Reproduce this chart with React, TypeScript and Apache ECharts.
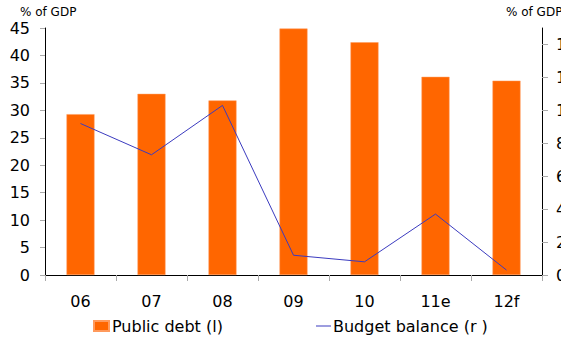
import React, { useEffect, useRef } from "react";
import * as echarts from "echarts";

const categories = ["06", "07", "08", "09", "10", "11e", "12f"];
const publicDebt = [29.3, 33.0, 31.8, 44.9, 42.4, 36.1, 35.4];
const budgetBalance = [9.2, 7.3, 10.3, 1.2, 0.8, 3.7, 0.3];
const leftTicks = [0, 5, 10, 15, 20, 25, 30, 35, 40, 45];
const rightTicks = [0, 2, 4, 6, 8, 10, 12, 14];

const FONT = "'DejaVu Sans', Verdana, sans-serif";

export default function App() {
  const ref = useRef<HTMLDivElement>(null);
  useEffect(() => {
    if (!ref.current) return;
    const chart = echarts.init(ref.current, undefined, { renderer: "svg" });
    chart.setOption({
      animation: false,
      textStyle: { fontFamily: FONT },
      grid: { left: 45, right: 19, top: 28, bottom: 62, containLabel: false, outerBoundsMode: "none" },
      legend: [
        {
          data: [{ name: "Public debt (l)", icon: "rect" }],
          left: 93,
          top: 318,
          padding: 0,
          itemWidth: 15,
          itemHeight: 10,
          textStyle: { fontSize: 16, color: "#000", fontFamily: FONT, padding: [0, 0, 0, -2] },
        },
        {
          data: [{ name: "Budget balance (r )", icon: "rect" }],
          left: 316,
          top: 318,
          padding: 0,
          itemWidth: 15,
          itemHeight: 1,
          textStyle: { fontSize: 16, color: "#000", fontFamily: FONT, padding: [0, 0, 0, -3] },
        },
      ],
      graphic: [
        { type: "text", left: 20, top: 6, style: { text: "% of GDP", fontSize: 12, fill: "#000", fontFamily: FONT } },
        { type: "text", left: 506, top: 6, style: { text: "% of GDP", fontSize: 12, fill: "#000", fontFamily: FONT } },
      ],
      xAxis: {
        type: "category",
        data: categories,
        axisLine: { lineStyle: { color: "#000", width: 1 } },
        axisTick: { show: true, length: 6, lineStyle: { color: "#aaa" } },
        axisLabel: { fontSize: 16, color: "#000", margin: 18, fontFamily: FONT },
        splitLine: { show: false },
      },
      yAxis: [
        {
          type: "value",
          min: 0,
          max: 45,
          interval: 5,
          position: "left",
          axisLine: { show: true, lineStyle: { color: "#000", width: 1 } },
          axisTick: { show: true, length: 5, lineStyle: { color: "#aaa" }, customValues: leftTicks },
          axisLabel: { fontSize: 16, color: "#000", margin: 15, fontFamily: FONT, customValues: leftTicks },
          splitLine: { show: false },
        },
        {
          type: "value",
          min: 0,
          max: 15,
          position: "right",
          axisLine: { show: true, lineStyle: { color: "#000", width: 1 } },
          axisTick: { show: true, length: 6, lineStyle: { color: "#aaa" }, customValues: rightTicks },
          axisLabel: { fontSize: 16, color: "#000", margin: 14, fontFamily: FONT, customValues: rightTicks },
          splitLine: { show: false },
        },
      ],
      series: [
        {
          name: "Public debt (l)",
          type: "bar",
          yAxisIndex: 0,
          data: publicDebt,
          barWidth: 28,
          itemStyle: { color: "#ff6600", borderColor: "#ff9a5c", borderWidth: 0.5 },
        },
        {
          name: "Budget balance (r )",
          type: "line",
          yAxisIndex: 1,
          data: budgetBalance,
          symbol: "none",
          showSymbol: false,
          lineStyle: { color: "#3b3bbf", width: 1 },
          itemStyle: { color: "#3b3bbf" },
        },
      ],
    });
    return () => chart.dispose();
  }, []);
  return (
    <div
      ref={ref}
      style={{ position: "absolute", left: 0, top: 0, width: 561, height: 337, background: "#fff" }}
    />
  );
}
